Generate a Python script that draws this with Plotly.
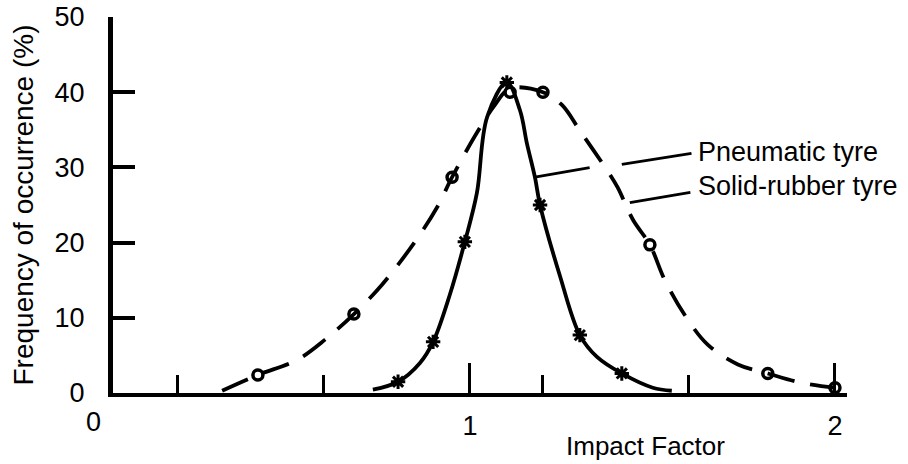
import plotly.graph_objects as go

# Impact factor readings along each frequency curve
pneumatic_x = [0.734, 0.803, 0.863, 0.899, 0.945, 0.986, 1.019, 1.047, 1.101,
               1.137, 1.156, 1.178, 1.192, 1.247, 1.301, 1.348, 1.416, 1.501, 1.553]
pneumatic_y = [0.45, 1.5, 4.0, 6.8, 13.1, 20.1, 26.6, 36.7, 41.3,
               37.6, 33.2, 28.7, 25.0, 15.5, 7.7, 4.8, 2.6, 0.7, 0.3]

rubber_x = [0.321, 0.419, 0.526, 0.603, 0.682, 0.759, 0.849, 0.910, 0.951, 1.014,
            1.068, 1.110, 1.200, 1.252, 1.301, 1.384, 1.405, 1.447, 1.493, 1.534,
            1.592, 1.652, 1.734, 1.816, 1.904, 2.000]
rubber_y = [0.3, 2.4, 4.4, 7.1, 10.5, 14.4, 20.1, 24.7, 28.7, 34.2,
            38.3, 40.5, 40.0, 38.3, 34.9, 29.0, 27.3, 23.0, 19.7, 15.0,
            10.1, 6.4, 3.8, 2.6, 1.4, 0.7]

# Measured points marked on each curve
pneumatic_mark_x = [0.803, 0.899, 0.986, 1.101, 1.192, 1.301, 1.416]
pneumatic_mark_y = [1.5, 6.8, 20.1, 41.3, 25.0, 7.7, 2.6]
rubber_mark_x = [0.419, 0.682, 0.951, 1.110, 1.200, 1.493, 1.816, 2.000]
rubber_mark_y = [2.4, 10.5, 28.7, 40.0, 40.0, 19.7, 2.6, 0.7]

y_ticks = [0, 10, 20, 30, 40, 50]
x_major_ticks = [1, 2]
x_minor_ticks = [0.2, 0.6, 1.2, 1.6]

FONT = "Liberation Sans, Arial, sans-serif"
INK = "black"

fig = go.Figure()

fig.add_trace(go.Scatter(
    x=rubber_x, y=rubber_y, mode="lines",
    line=dict(color=INK, width=3.8, dash="28px,16px", shape="spline", smoothing=1.0),
    cliponaxis=False, showlegend=False, hoverinfo="skip"))
fig.add_trace(go.Scatter(
    x=pneumatic_x, y=pneumatic_y, mode="lines",
    line=dict(color=INK, width=3.8, shape="spline", smoothing=1.0),
    cliponaxis=False, showlegend=False, hoverinfo="skip"))
fig.add_trace(go.Scatter(
    x=rubber_mark_x, y=rubber_mark_y, mode="markers",
    marker=dict(symbol="circle-open", size=10, color=INK, line=dict(color=INK, width=3.5)),
    cliponaxis=False, showlegend=False))
fig.add_trace(go.Scatter(
    x=pneumatic_mark_x, y=pneumatic_mark_y, mode="markers",
    marker=dict(symbol="asterisk-open", size=12, color=INK, line=dict(color=INK, width=3)),
    cliponaxis=False, showlegend=False))

# Leader lines from the curve labels
leaders = [
    (1.178, 28.7, 1.332, 30.0),
    (1.416, 30.4, 1.611, 31.9),
    (1.438, 25.3, 1.608, 26.7),
]
for x0, y0, x1, y1 in leaders:
    fig.add_annotation(x=x0, y=y0, ax=x1, ay=y1, xref="x", yref="y",
                       axref="x", ayref="y", text="", showarrow=True,
                       arrowhead=0, arrowwidth=2.8, arrowcolor=INK,
                       standoff=0, startstandoff=0)

fig.add_annotation(x=1.62, y=32.0, xref="x", yref="y", text="Pneumatic tyre",
                   showarrow=False, xanchor="left", yanchor="middle",
                   font=dict(family=FONT, size=27, color=INK))
fig.add_annotation(x=1.62, y=27.5, xref="x", yref="y", text="Solid-rubber tyre",
                   showarrow=False, xanchor="left", yanchor="middle",
                   font=dict(family=FONT, size=27, color=INK))

# Origin label on the impact-factor axis
fig.add_annotation(x=0, y=0, xref="paper", yref="paper", text="0", showarrow=False,
                   xanchor="center", yanchor="top", xshift=-20, yshift=-12,
                   font=dict(family=FONT, size=27, color=INK))

# Axis title placed under the right half of the axis
fig.add_annotation(x=0.725, y=0, xref="paper", yref="paper", text="Impact Factor",
                   showarrow=False, xanchor="center", yanchor="top", yshift=-36,
                   font=dict(family=FONT, size=26, color=INK))

fig.update_layout(
    width=908, height=464,
    margin=dict(l=113, r=61, t=17, b=71),
    paper_bgcolor="white", plot_bgcolor="white",
    font=dict(family=FONT, size=27, color=INK),
    xaxis=dict(
        range=[0.022, 2.033], showgrid=False, zeroline=False, automargin=False,
        showline=True, linecolor=INK, linewidth=4,
        tickmode="array", tickvals=x_major_ticks, ticktext=[str(v) for v in x_major_ticks],
        ticks="inside", ticklen=30, tickwidth=3, tickcolor=INK,
        ticklabelstandoff=6,
        minor=dict(tickmode="array", tickvals=x_minor_ticks, ticks="inside",
                   ticklen=18, tickwidth=3, tickcolor=INK),
    ),
    yaxis=dict(
        range=[0, 50], showgrid=False, zeroline=False, automargin=False,
        showline=True, linecolor=INK, linewidth=5,
        tickmode="array", tickvals=y_ticks,
        ticks="inside", ticklen=22, tickwidth=3.5, tickcolor=INK,
        ticklabelstandoff=18,
        title=dict(text="Frequency of occurrence (%)",
                   font=dict(family=FONT, size=28, color=INK), standoff=14),
    ),
)

fig.write_html("out.html")
